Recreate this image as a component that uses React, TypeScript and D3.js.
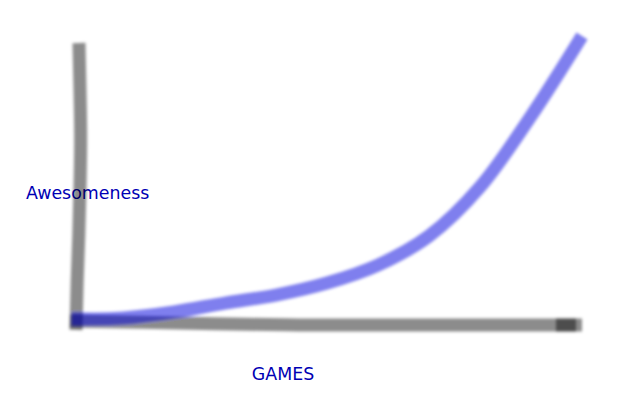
import { useEffect, useRef } from 'react'
import * as d3 from 'd3'

// games played vs awesomeness
const games = [0, 10, 20, 30, 40, 50, 60, 70, 80, 90, 100]
const awesomeness = [0.7, 1.1, 3.2, 6.3, 9.1, 13.3, 19.6, 29.8, 47, 71.9, 100]

// hand-drawn wobble for the axes (pixels)
const yAxisWobble = [0, 1, 3, 4, 5, 4, 3]
const xAxisWobble = [0, 1, 3, 4, 4, 4, 4, 4]

const xLabel = 'GAMES'
const yLabel = 'Awesomeness'

export default function App() {
  const svgRef = useRef<SVGSVGElement>(null)
  const width = 640
  const height = 400

  useEffect(() => {
    if (!svgRef.current) return
    const svg = d3.select(svgRef.current)
    svg.selectAll('*').remove()

    const x = d3.scaleLinear().domain([0, 100]).range([72, 582])
    const y = d3.scaleLinear().domain([0, 100]).range([321, 36])

    const defs = svg.append('defs')
    defs.append('filter')
      .attr('id', 'blur')
      .attr('x', '-10%').attr('y', '-10%')
      .attr('width', '120%').attr('height', '120%')
      .append('feGaussianBlur')
      .attr('stdDeviation', 1.5)

    // labels sit under the strokes
    svg.append('text')
      .attr('x', 26)
      .attr('y', 199)
      .attr('fill', '#0000b4')
      .style('font-family', 'DejaVu Sans, sans-serif')
      .style('font-size', '17.4px')
      .text(yLabel)

    svg.append('text')
      .attr('x', 283)
      .attr('y', 380)
      .attr('text-anchor', 'middle')
      .attr('fill', '#0000b4')
      .style('font-family', 'DejaVu Sans, sans-serif')
      .style('font-size', '17.4px')
      .text(xLabel)

    const g = svg.append('g').attr('filter', 'url(#blur)')
    const axisPath = (pts: [number, number][]) =>
      g.append('path')
        .attr('d', d3.line().curve(d3.curveBasis)(pts))
        .attr('fill', 'none')
        .attr('stroke', '#000')
        .attr('stroke-opacity', 0.45)
        .attr('stroke-width', 13)

    // y axis, drawn from the bottom up
    const yBottom = y(0) + 9
    const yTop = 43
    axisPath(yAxisWobble.map((w, i) => [
      x(0) + 4 + w,
      yBottom + (yTop - yBottom) * (i / (yAxisWobble.length - 1)),
    ]))

    // x axis plus a short overlapping stroke at the far end
    const xLeft = x(0) - 2
    const xRight = x(100)
    axisPath(xAxisWobble.map((w, i) => [
      xLeft + (xRight - 6 - xLeft) * (i / (xAxisWobble.length - 1)),
      y(0) + w,
    ]))
    axisPath([[xRight - 26, y(0) + 4], [xRight, y(0) + 4]])

    // the curve
    const line = d3.line<number>()
      .x((_, i) => x(games[i]))
      .y(d => y(d))
      .curve(d3.curveCatmullRom)

    g.append('path')
      .attr('d', line(awesomeness))
      .attr('fill', 'none')
      .attr('stroke', '#0000dd')
      .attr('stroke-opacity', 0.5)
      .attr('stroke-width', 13)
  }, [])

  return (
    <svg
      ref={svgRef}
      width={width}
      height={height}
      style={{ position: 'absolute', left: 0, top: 0, background: '#fff' }}
    />
  )
}
